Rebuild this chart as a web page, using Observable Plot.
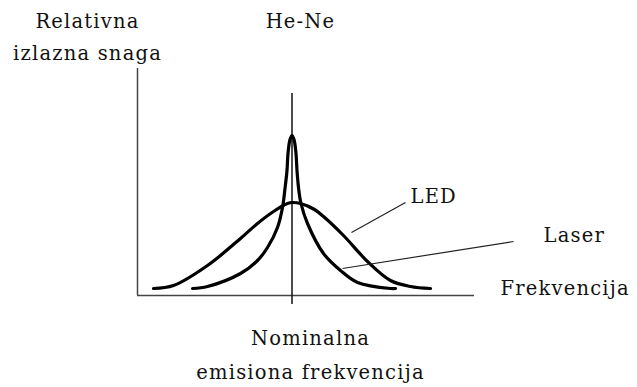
<!DOCTYPE html>
<html>
<head>
<meta charset="utf-8">
<script src="https://cdn.jsdelivr.net/npm/d3@7"></script>
<script src="https://cdn.jsdelivr.net/npm/@observablehq/plot@0.6"></script>
<style>
  html, body { margin: 0; padding: 0; background: #fff; }
  #chart svg { display: block; }
</style>
</head>
<body>
<div id="chart"></div>
<script>
// Relative frequency offset from the nominal emission frequency (arbitrary units)
const ledFreq  = [-2.77, -2.37, -1.69, -1.03, -0.69, -0.37, -0.09, 0.01, 0.17, 0.45, 0.63, 1.03, 1.51, 1.97, 2.37, 2.77];
// Relative output power (arbitrary units)
const ledPower = [0.07, 0.10, 0.30, 0.57, 0.72, 0.84, 0.92, 0.93, 0.92, 0.86, 0.79, 0.60, 0.34, 0.15, 0.09, 0.07];

const laserFreq  = [-1.99, -1.69, -1.03, -0.69, -0.49, -0.29, -0.19, -0.14, -0.10, -0.08, -0.04, 0.00, 0.04, 0.08, 0.10, 0.13, 0.18, 0.31, 0.63, 0.97, 1.31, 1.97, 2.07];
const laserPower = [0.07, 0.09, 0.22, 0.35, 0.48, 0.68, 0.88, 1.07, 1.25, 1.42, 1.56, 1.60, 1.56, 1.42, 1.25, 1.08, 0.92, 0.72, 0.42, 0.25, 0.13, 0.07, 0.07];

// Axis extents
const freqDomain  = [-3.09, 3.65];
const powerDomain = [0, 2.27];
const nominalFreq = 0;
const nominalLineSpan = [-0.09, 2.02];

// Annotation labels
const labelText   = ["LED", "Laser", "Frekvencija", "He-Ne"];
const labelFreq   = [2.37, 5.03, 4.17, 0.17];
const labelPower  = [0.99, 0.60, 0.07, 2.74];
const labelAnchor = ["start", "start", "start", "middle"];

// Leader lines: [from, to]
const leaderText   = ["LED", "Laser"];
const leaderFreq1  = [2.27, 4.43];
const leaderPower1 = [0.93, 0.54];
const leaderFreq2  = [1.19, 1.01];
const leaderPower2 = [0.63, 0.27];

// Two-line captions
const yTitleLines  = ["Relativna", "izlazna snaga"];
const yTitleFreq   = [-4.09, -4.09];
const yTitlePower  = [2.74, 2.42];
const nomLines     = ["Nominalna", "emisiona frekvencija"];
const nomFreq      = [0.37, 0.37];
const nomPower     = [-0.43, -0.77];

const led   = ledFreq.map((f, i) => ({f, p: ledPower[i]}));
const laser = laserFreq.map((f, i) => ({f, p: laserPower[i]}));
const labels = labelText.map((t, i) => ({t, f: labelFreq[i], p: labelPower[i], a: labelAnchor[i]}));
const leaders = leaderText.map((t, i) => ({t, f1: leaderFreq1[i], p1: leaderPower1[i], f2: leaderFreq2[i], p2: leaderPower2[i]}));
const captions = [
  ...yTitleLines.map((t, i) => ({t, f: yTitleFreq[i], p: yTitlePower[i]})),
  ...nomLines.map((t, i) => ({t, f: nomFreq[i], p: nomPower[i]}))
];

const font = "DejaVu Serif";
const fs = 19.5;

const chart = Plot.plot({
  width: 637,
  height: 387,
  marginLeft: 137,
  marginRight: 163,
  marginTop: 68,
  marginBottom: 92,
  x: {domain: freqDomain, axis: null},
  y: {domain: powerDomain, axis: null},
  style: {background: "#fff", fontFamily: font, fontSize: fs + "px", color: "#000"},
  marks: [
    // axes
    Plot.ruleY([0], {x1: freqDomain[0], x2: freqDomain[1], stroke: "#444", strokeWidth: 1.5}),
    Plot.ruleX([freqDomain[0]], {y1: powerDomain[0], y2: powerDomain[1], stroke: "#444", strokeWidth: 1.5}),
    // nominal emission frequency marker
    Plot.ruleX([nominalFreq], {y1: nominalLineSpan[0], y2: nominalLineSpan[1], stroke: "#111", strokeWidth: 1.5}),
    // spectra
    Plot.line(led, {x: "f", y: "p", curve: "catmull-rom", stroke: "#000", strokeWidth: 3.2}),
    Plot.line(laser, {x: "f", y: "p", curve: "catmull-rom", stroke: "#000", strokeWidth: 3.2}),
    // leader lines
    Plot.link(leaders, {x1: "f1", y1: "p1", x2: "f2", y2: "p2", stroke: "#222", strokeWidth: 1.2}),
    // labels
    Plot.text(labels, {x: "f", y: "p", text: "t", textAnchor: "start", fontSize: fs, fontFamily: font, fill: "#111", filter: d => d.a === "start"}),
    Plot.text(labels, {x: "f", y: "p", text: "t", textAnchor: "middle", fontSize: fs, fontFamily: font, fill: "#111", filter: d => d.a === "middle"}),
    Plot.text(captions, {x: "f", y: "p", text: "t", textAnchor: "middle", fontSize: fs, fontFamily: font, fill: "#111"})
  ]
});

d3.select(chart).selectAll("text").attr("letter-spacing", "1.2px");
document.getElementById("chart").appendChild(chart);
</script>
</body>
</html>
